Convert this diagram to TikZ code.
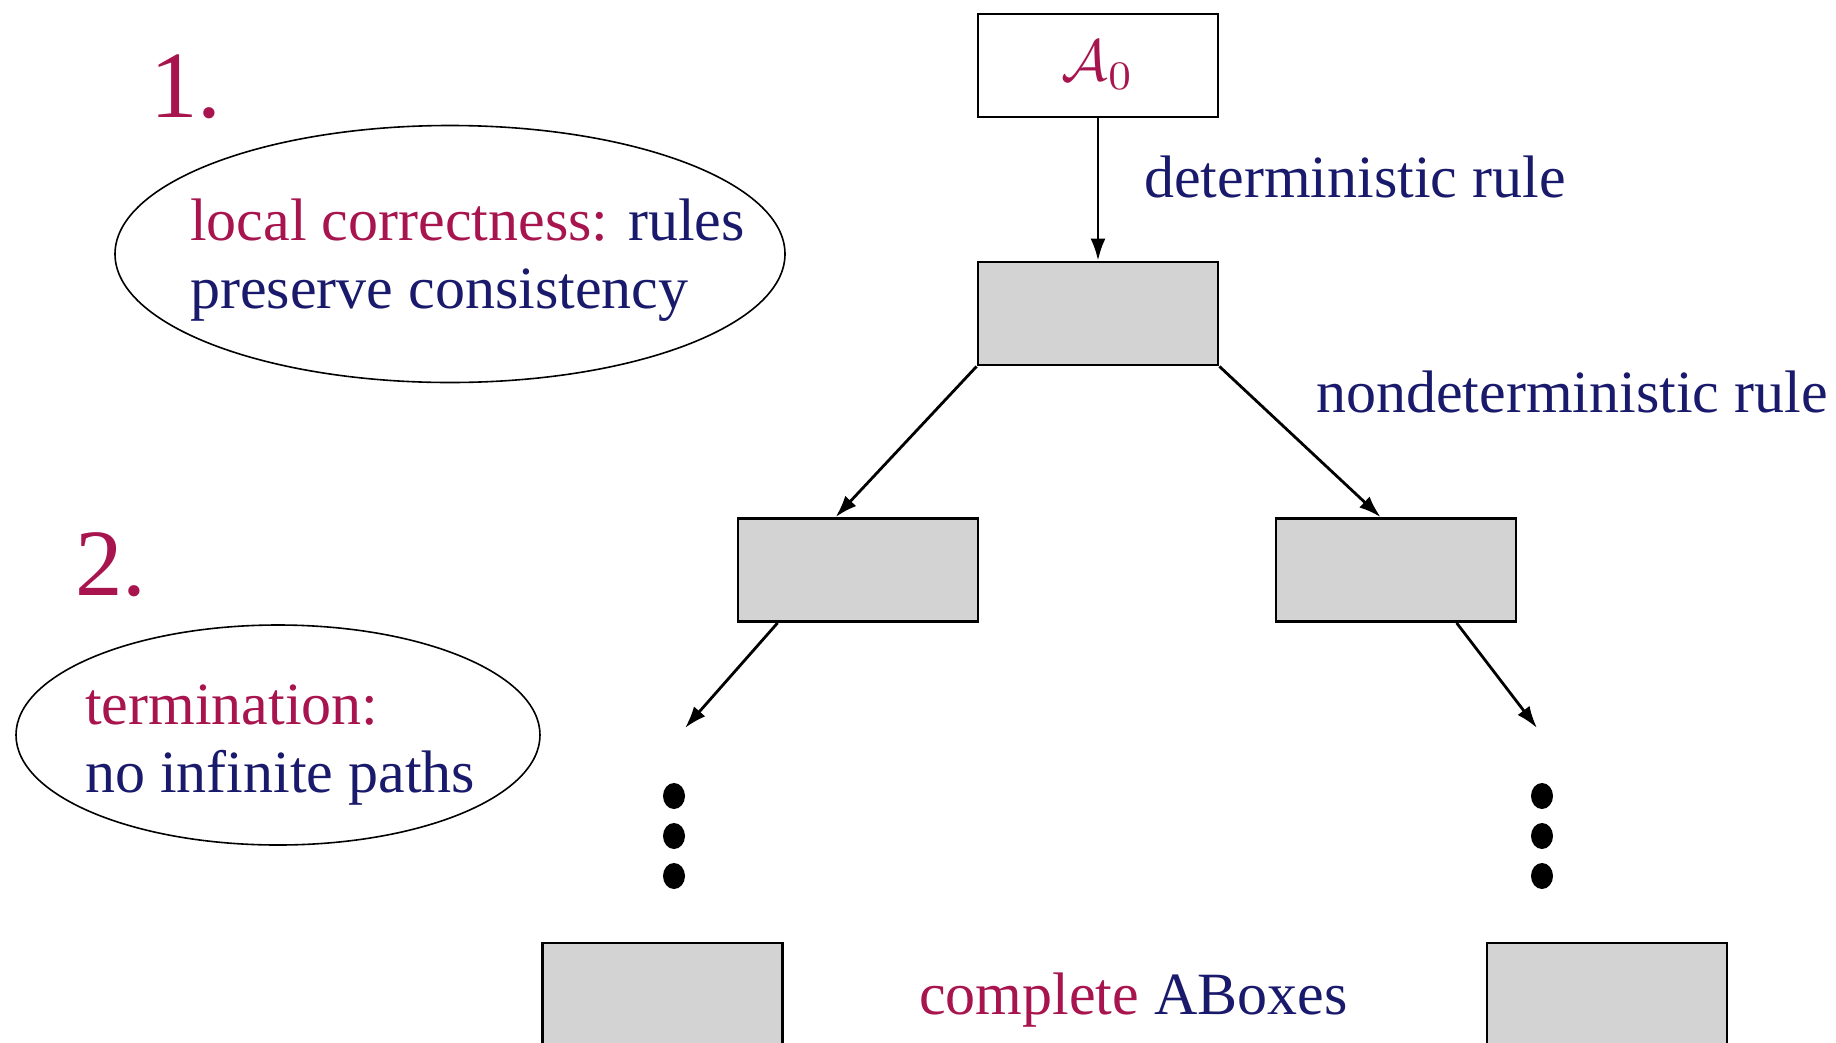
\documentclass[tikz,border=0pt]{standalone}
\usepackage{graphicx}
\usepackage{fontspec}
\setmainfont{Liberation Serif}
\usetikzlibrary{arrows.meta,shapes.geometric,calc}
\definecolor{crim}{RGB}{168,20,78}
\definecolor{navy}{RGB}{26,26,108}
\definecolor{boxgray}{RGB}{211,211,211}
\begin{document}
\begin{tikzpicture}[x=1pt,y=-1pt,
  abox/.style={draw,line width=2.8pt,minimum width=240pt,minimum height=103pt,inner sep=0pt,fill=boxgray},
  conn/.style={line width=2.8pt,-{Latex[length=22pt,width=15pt]}},
  oval/.style={draw,ellipse,line width=1.6pt,inner sep=0pt},
  lbl/.style={anchor=base west,inner sep=0pt,font=\fontsize{60}{72}\selectfont},
  num/.style={anchor=base west,inner sep=0pt,text=crim,font=\fontsize{95}{110}\selectfont},
  bdot/.style={fill=black,ellipse,minimum width=22pt,minimum height=26pt,inner sep=0pt}]
\useasboundingbox (0,0) rectangle (1836,1042);
\clip (0,0) rectangle (1836,1042);
% boxes
\node[abox,fill=white] (a0) at (1098,65.5) {\scalebox{5.8}{\textcolor{crim}{$\mathcal{A}_0$}}};
\node[abox] (b) at (1098,313.5) {};
\node[abox] (c) at (858,570) {};
\node[abox] (d) at (1396,570) {};
\node[abox] (bl) at (662.5,994.5) {};
\node[abox] (br) at (1607,994.5) {};
% connectors
\coordinate (cend) at (685,728);
\coordinate (dend) at (1537,728);
\draw[conn] (a0.south) -- (b.north);
\draw[conn] (b.south west) -- ([xshift=99pt]c.north west);
\draw[conn] (b.south east) -- ([xshift=106pt]d.north west);
\draw[conn] ([xshift=41pt]c.south west) -- (cend);
\draw[conn] ([xshift=182pt]d.south west) -- (dend);
% dots
\node[bdot] (l1) at (674,796) {};
\node[bdot] (l2) at (674,836) {};
\node[bdot] (l3) at (674,876) {};
\node[bdot] (r1) at (1542,796) {};
\node[bdot] (r2) at (1542,836) {};
\node[bdot] (r3) at (1542,876) {};
% labels
\node[lbl,text=navy] (det) at (1144,197) {deterministic rule};
\node[lbl,text=navy] (nondet) at (1316,412) {nondeterministic rule};
\node[lbl] (comp) at (919,1014) {\textcolor{crim}{complete} \textcolor{navy}{ABoxes}};
\node[num] (n1) at (150,117) {1.};
\node[num] (n2) at (75,595) {2.};
% ellipses
\node[oval,minimum width=670pt,minimum height=257pt] (e1) at (450,254) {};
\node[lbl] (t1a) at (190,240) {\textcolor{crim}{local correctness:} \textcolor{navy}{rules}};
\node[lbl,text=navy] (t1b) at (190,308) {preserve consistency};
\node[oval,minimum width=524pt,minimum height=220pt] (e2) at (278,735) {};
\node[lbl,text=crim] (t2a) at (85,724) {termination:};
\node[lbl,text=navy] (t2b) at (85,792) {no infinite paths};
\end{tikzpicture}
\end{document}
